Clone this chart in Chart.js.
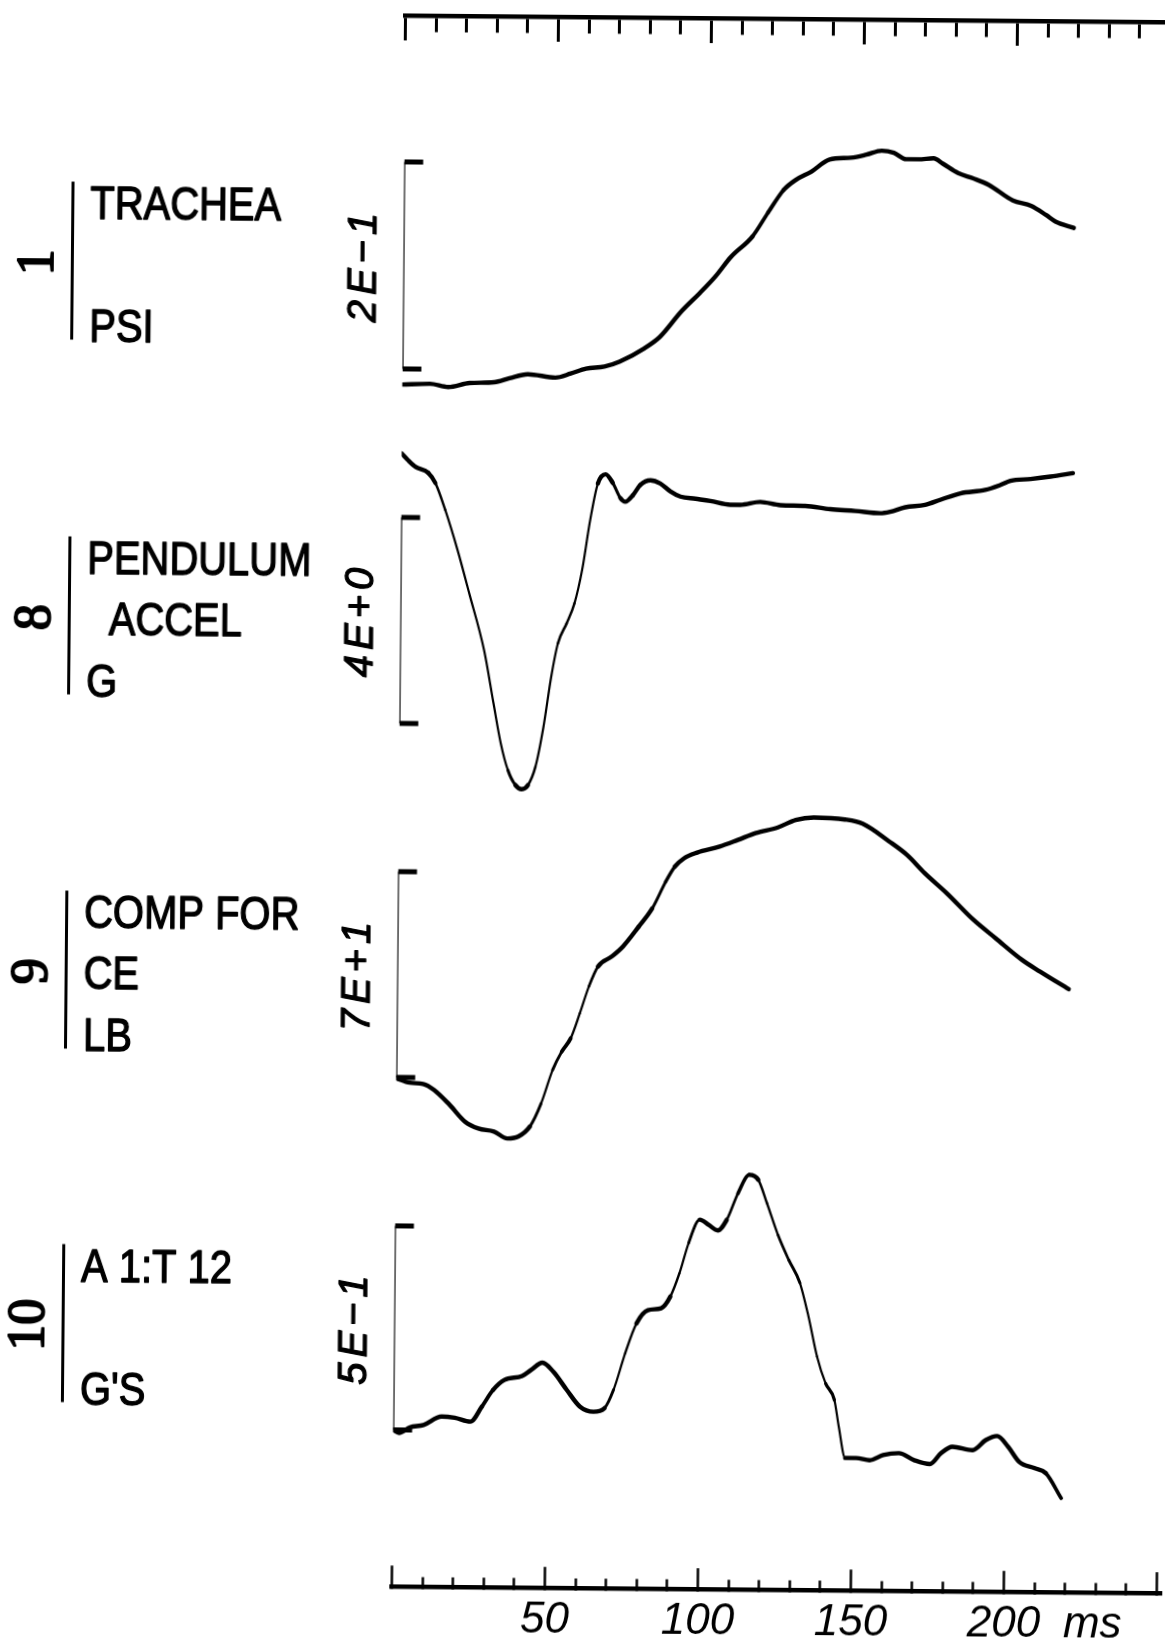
<!DOCTYPE html>
<html>
<head>
<meta charset="utf-8">
<title>Channels 1, 8, 9, 10</title>
<script src="https://cdn.jsdelivr.net/npm/chart.js@4.4.1/dist/chart.umd.min.js"></script>
<style>
  html, body { margin: 0; padding: 0; background: #fff; overflow: hidden; }
  #sheet {
    position: absolute; left: 0; top: 0; width: 1165px; height: 1639px;
    transform: rotate(0.5deg); transform-origin: 582.5px 819.5px;
  }
  #sheet canvas { position: absolute; left: 0; top: 0; }
</style>
</head>
<body>
<div id="sheet">
  <canvas id="rulerTop" width="1165" height="60"></canvas>
  <canvas id="traces" width="1165" height="1639"></canvas>
  <canvas id="rulerBottom" width="1175" height="200"></canvas>
</div>
<script>
// channels, top to bottom
const channels = ['1', '8', '9', '10'];
const names = ['TRACHEA', 'PENDULUM ACCEL', 'COMP FORCE', 'A 1:T 12'];
const units = ['PSI', 'G', 'LB', "G'S"];
const scaleBars = [0.2, 4, 70, 0.5];   // length of each calibration bracket

// time in ms, values in channel units (bracket bottom = 0)
const t1 = [0, 9, 15, 22, 30, 35, 41, 50, 55, 60, 66, 71, 79, 84, 91, 97, 102, 107, 114, 119,
  124, 128, 133, 139, 146, 151, 156, 160, 164, 168, 173, 176, 181, 186, 191, 199, 205, 210, 213, 219];
const v1 = [-0.015, -0.014, -0.017, -0.013, -0.012, -0.008, -0.004, -0.007, -0.003, 0.002,
  0.004, 0.009, 0.022, 0.033, 0.058, 0.076, 0.092, 0.111, 0.131, 0.154,
  0.176, 0.186, 0.194, 0.206, 0.208, 0.211, 0.215, 0.213, 0.207, 0.207,
  0.208, 0.203, 0.194, 0.189, 0.183, 0.168, 0.163, 0.154, 0.148, 0.142];

const t8 = [0, 2.1, 4.6, 8.7, 11.1, 14.4, 18.5, 22.5, 27.5, 30.7, 33.2, 35.6, 38.1, 40.2, 42.2,
  44.6, 47.1, 49.5, 51.6, 54.4, 56.9, 59.3, 61.8, 64.2, 66.7, 69.1, 71.6, 73.2, 75.7, 78.1,
  81.4, 84.6, 87.9, 91.2, 96.1, 101, 107.5, 110.8, 117.3, 123.9, 132, 140.2, 148.4, 156.5,
  159.8, 164.7, 171.2, 176.1, 182.7, 190.8, 195.8, 199, 205.6, 212.1, 219.4];
const v8 = [5.24, 5.11, 4.98, 4.87, 4.67, 4.15, 3.38, 2.53, 1.43, 0.41, -0.37, -0.89, -1.18, -1.26, -1.18,
  -0.82, -0.05, 0.93, 1.58, 1.97, 2.36, 3.01, 3.98, 4.69, 4.87, 4.70, 4.41, 4.34, 4.47, 4.67,
  4.76, 4.70, 4.55, 4.45, 4.41, 4.37, 4.30, 4.30, 4.36, 4.30, 4.29, 4.23, 4.20, 4.16,
  4.19, 4.28, 4.33, 4.43, 4.56, 4.63, 4.73, 4.81, 4.85, 4.90, 4.97];

const t9 = [0, 4.4, 8.8, 12.4, 17.5, 22.6, 27, 32.1, 36.5, 40.1, 43.8, 47.4, 51.1, 54, 56.9,
  59.8, 62.7, 65.6, 70, 73.7, 78.8, 83.2, 87.5, 90.4, 93.4, 97.7, 105, 110.9, 116.7, 124,
  129.8, 135.7, 145.9, 151.7, 160.5, 166.3, 172.1, 179.4, 188.2, 195.5, 204.2, 210.1, 219.5];
const v9 = [-0.3, -1.8, -2.2, -4.2, -9.2, -14.9, -17.2, -18.2, -20.5, -19.8, -16.4, -8.5, 3.0, 9.2, 13.8,
  22.3, 31.5, 38.3, 41.7, 45.2, 52.0, 58.3, 67.4, 72.5, 75.4, 77.4, 79.5, 81.8, 84.2, 86.2,
  88.8, 89.7, 89.1, 87.7, 81.7, 77.2, 71.1, 64.3, 55.3, 49.1, 41.8, 37.9, 32.0];

const t10 = [0, 1.9, 5.5, 9.9, 15.8, 20.1, 25.2, 28.9, 32.5, 36.2, 42, 44.9, 48.6, 52.2, 56.6,
  61, 65.4, 69, 71.9, 75.6, 79.2, 82.9, 87.2, 90.2, 93.1, 96, 99.6, 102.6, 105.5, 108.4,
  112, 115.7, 118.6, 121.5, 125.2, 128.8, 132.5, 135.4, 138.3, 141.2, 144.1, 145.6, 147.8, 151.4,
  155.8, 160.2, 165.3, 170.4, 175.5, 179.1, 182.8, 189.4, 193.7, 197.4, 201, 204.7, 209.8, 213.4, 218.5];
const v10 = [0, -0.007, 0.007, 0.013, 0.034, 0.031, 0.022, 0.059, 0.100, 0.125, 0.135, 0.150, 0.168, 0.146, 0.102,
  0.061, 0.049, 0.058, 0.103, 0.193, 0.266, 0.299, 0.304, 0.333, 0.390, 0.464, 0.522, 0.509, 0.496, 0.522,
  0.587, 0.633, 0.621, 0.564, 0.486, 0.425, 0.369, 0.287, 0.189, 0.123, 0.083, 0.018, -0.059, -0.059,
  -0.064, -0.051, -0.046, -0.063, -0.072, -0.045, -0.029, -0.037, -0.012, -0.002, -0.028, -0.065, -0.080, -0.092, -0.153];

const timeLabels = [50, 100, 150, 200];
const timeUnit = 'ms';

// layout (px)
const X0 = 398.5;
const PX_PER_MS = 3.06;
const T_MAX = 250;
const PAGE_H = 1639;
const BAR_TOP = [163.6, 518.9, 873.3, 1227.6];
const BAR_BOTTOM = [370.6, 724.9, 1078.9, 1431.6];
const SERIF_MS = 6.2;
const TOP_RULE_Y = 17;
const BOTTOM_RULE_Y = 1588;
const UNIT_AT = 229;
const CHAR_PITCH = 22;

const INK = '#000';

// pen gets thinner where the trace is steep
function penWidth(ctx) {
  const dx = ctx.p1.x - ctx.p0.x, dy = ctx.p1.y - ctx.p0.y;
  const s = Math.abs(dy) / (Math.hypot(dx, dy) || 1);
  return 4.4 - 2.2 * Math.min(1, Math.max(0, (s - 0.8) / 0.15));
}

function sci(v) {
  const [m, e] = v.toExponential().split('e');
  return m + 'E' + (e[0] === '-' ? '\u2212' : '+') + e.slice(1);
}

const series = [[t1, v1], [t8, v8], [t9, v9], [t10, v10]];
const yScales = {};
const datasets = [];
series.forEach(([t, v], i) => {
  const id = 'y' + channels[i];
  const ppu = (BAR_BOTTOM[i] - BAR_TOP[i]) / scaleBars[i];
  yScales[id] = { type: 'linear', display: false, min: -(PAGE_H - BAR_BOTTOM[i]) / ppu, max: BAR_BOTTOM[i] / ppu };
  datasets.push({
    data: t.map((x, j) => ({ x, y: v[j] })),
    yAxisID: id,
    borderColor: INK,
    borderWidth: 4,
    borderCapStyle: 'round',
    borderJoinStyle: 'round',
    pointRadius: 0,
    cubicInterpolationMode: 'monotone',
    segment: { borderWidth: penWidth }
  });
  const s = scaleBars[i];
  datasets.push({
    data: [{ x: SERIF_MS, y: s }, { x: 0, y: s }, { x: 0, y: 0 }, { x: SERIF_MS, y: 0 }],
    yAxisID: id,
    borderColor: INK,
    borderWidth: 2.2,
    pointRadius: 0,
    tension: 0,
    segment: { borderWidth: ctx => Math.abs(ctx.p0.y - ctx.p1.y) < 0.5 ? 5 : 2.2 }
  });
});

// filled text with a thin outline so it reads like plotter pen strokes
function penText(ctx, txt, x, y, w) {
  ctx.lineWidth = w;
  ctx.lineJoin = 'round';
  ctx.strokeText(txt, x, y);
  ctx.fillText(txt, x, y);
}

const channelLabels = {
  id: 'channelLabels',
  afterDraw(chart) {
    const ctx = chart.ctx;
    ctx.save();
    ctx.fillStyle = INK;
    ctx.strokeStyle = INK;
    channels.forEach((ch, i) => {
      const c = chart.scales['y' + ch].getPixelForValue(scaleBars[i] / 2);

      ctx.save();
      ctx.translate(34, c);
      ctx.rotate(-Math.PI / 2);
      ctx.font = '52px "Liberation Serif"';
      ctx.textAlign = 'center';
      ctx.textBaseline = 'middle';
      penText(ctx, ch, 0, 0, 2);
      ctx.restore();

      ctx.lineWidth = 3;
      ctx.beginPath();
      ctx.moveTo(67.5, c - 81);
      ctx.lineTo(67.5, c + 77);
      ctx.stroke();

      // name wrapped at 8 characters, unit on the last line
      const lines = names[i].match(/.{1,8}/g);
      const rows = [[lines[0], c - 44]];
      if (lines[1]) rows.push([lines[1], c + 17]);
      rows.push([units[i], c + 79]);
      ctx.font = '47px "Liberation Sans"';
      ctx.textAlign = 'left';
      ctx.textBaseline = 'alphabetic';
      rows.forEach(([txt, y]) => {
        const lead = txt.length - txt.trimStart().length;
        ctx.save();
        ctx.translate(85 + lead * CHAR_PITCH, y);
        ctx.scale(0.85, 1);
        penText(ctx, txt.trimStart(), 0, 0, 1.4);
        ctx.restore();
      });

      ctx.save();
      ctx.translate(360, c);
      ctx.rotate(-Math.PI / 2);
      ctx.font = 'italic 40px "Liberation Sans"';
      ctx.letterSpacing = '5px';
      ctx.textAlign = 'center';
      ctx.textBaseline = 'middle';
      penText(ctx, sci(scaleBars[i]), 0, 0, 1.2);
      ctx.restore();
    });
    ctx.restore();
  }
};

new Chart(document.getElementById('traces'), {
  type: 'line',
  data: { datasets },
  options: {
    responsive: false,
    animation: false,
    layout: { padding: { left: X0, right: 1165 - X0 - T_MAX * PX_PER_MS, top: 0, bottom: 0 } },
    plugins: { legend: { display: false }, tooltip: { enabled: false } },
    scales: Object.assign({ x: { type: 'linear', display: false, min: 0, max: T_MAX } }, yScales)
  },
  plugins: [channelLabels]
});

function isMinor(ctx) {
  return ctx.tick && ctx.tick.value % 50 !== 0;
}

// time ruler across the top, ticks hanging down
const topEl = document.getElementById('rulerTop');
const rulerTop = new Chart(topEl, {
  type: 'line',
  data: { datasets: [] },
  options: {
    responsive: false,
    animation: false,
    layout: { padding: { left: X0, right: 1165 - X0 - T_MAX * PX_PER_MS, top: 0, bottom: 10 } },
    plugins: { legend: { display: false }, tooltip: { enabled: false } },
    scales: {
      x: {
        type: 'linear', position: 'bottom', min: 0, max: T_MAX,
        ticks: { display: false, stepSize: 10, autoSkip: false },
        border: { display: true, width: 4.5, color: INK },
        grid: {
          drawOnChartArea: false, tickLength: 25, tickWidth: 3, tickColor: INK,
          tickBorderDash: ctx => isMinor(ctx) ? [14, 100] : []
        }
      },
      y: { display: false }
    }
  }
});
topEl.style.top = (TOP_RULE_Y - rulerTop.chartArea.bottom) + 'px';

// time ruler along the bottom, ticks standing up, labelled
const botEl = document.getElementById('rulerBottom');
const B_MAX = 251.5;
const rulerBottom = new Chart(botEl, {
  type: 'line',
  data: { datasets: [] },
  options: {
    responsive: false,
    animation: false,
    layout: { padding: { left: X0, right: 1175 - X0 - B_MAX * PX_PER_MS, top: 0, bottom: 10 } },
    plugins: { legend: { display: false }, tooltip: { enabled: false } },
    scales: {
      x: {
        type: 'linear', position: 'bottom', min: 0, max: B_MAX,
        afterBuildTicks: s => { s.ticks.push({ value: UNIT_AT }); },
        ticks: {
          stepSize: 10, autoSkip: false, includeBounds: false, maxRotation: 0, padding: 27, color: INK,
          font: { family: 'Liberation Sans', style: 'italic', size: 44 },
          callback: v => v === UNIT_AT ? timeUnit : (timeLabels.includes(v) ? String(v) : '')
        },
        border: { display: true, width: 4.5, color: INK },
        grid: {
          drawOnChartArea: false, tickLength: -21, tickWidth: 2.5,
          tickColor: ctx => ctx.tick && ctx.tick.value === UNIT_AT ? 'rgba(0,0,0,0)' : INK,
          tickBorderDash: ctx => isMinor(ctx) ? [12, 100] : []
        }
      },
      y: { display: false }
    }
  }
});
botEl.style.top = (BOTTOM_RULE_Y - rulerBottom.chartArea.bottom) + 'px';
</script>
</body>
</html>
